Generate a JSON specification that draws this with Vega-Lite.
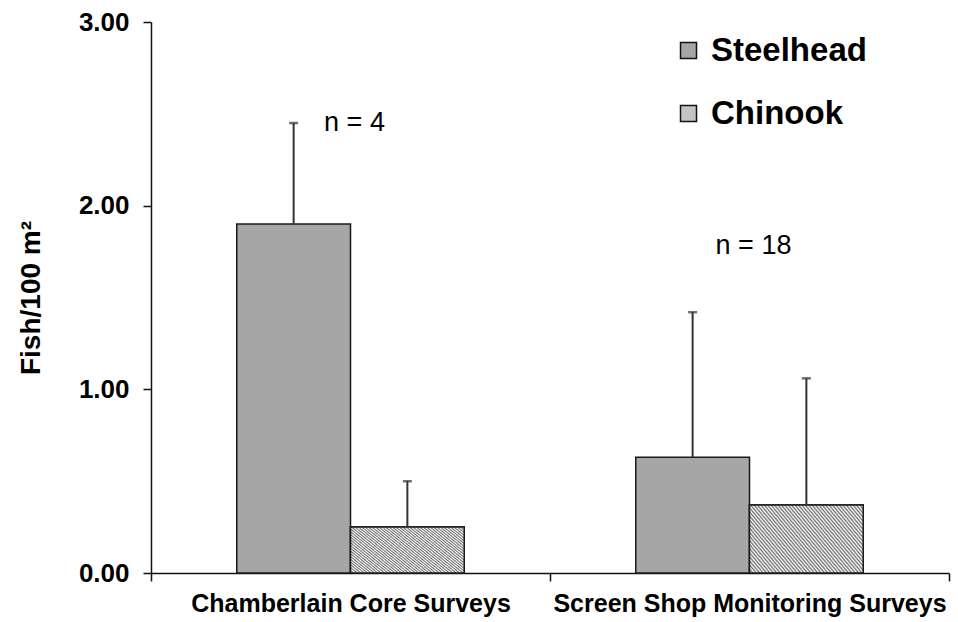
{
  "$schema": "https://vega.github.io/schema/vega-lite/v6.json",
  "width": 798,
  "height": 551,
  "autosize": {"type": "none"},
  "padding": {"left": 151, "top": 22, "right": 9, "bottom": 49},
  "background": "white",
  "config": {
    "view": {"stroke": null},
    "font": "Liberation Sans",
    "axis": {"grid": false, "domainColor": "#111", "tickColor": "#111", "labelColor": "#000", "titleColor": "#000", "domainWidth": 1.5, "tickWidth": 1.5}
  },
  "datasets": {
    "bars": [
      {"site": "Chamberlain Core Surveys", "species": "Steelhead", "mean": 1.90, "upper": 2.45},
      {"site": "Chamberlain Core Surveys", "species": "Chinook", "mean": 0.25, "upper": 0.50},
      {"site": "Screen Shop Monitoring Surveys", "species": "Steelhead", "mean": 0.63, "upper": 1.42},
      {"site": "Screen Shop Monitoring Surveys", "species": "Chinook", "mean": 0.37, "upper": 1.06}
    ],
    "notes": [
      {"site": "Chamberlain Core Surveys", "label": "n = 4", "ypos": 2.45},
      {"site": "Screen Shop Monitoring Surveys", "label": "n = 18", "ypos": 1.78}
    ]
  },
  "layer": [
    {
      "data": {"name": "bars"},
      "mark": {"type": "bar", "stroke": "#1a1a1a", "strokeWidth": 1.5},
      "encoding": {
        "x": {"field": "site", "type": "nominal", "sort": ["Chamberlain Core Surveys", "Screen Shop Monitoring Surveys"],
          "scale": {"paddingInner": 0, "paddingOuter": 0},
          "axis": {"title": null, "labelAngle": 0, "labelFontSize": 25, "labelFontWeight": "bold", "labelLimit": 0, "tickBand": "extent", "tickSize": 8, "labelPadding": 10}},
        "xOffset": {"field": "species", "type": "nominal", "sort": ["Steelhead", "Chinook"], "scale": {"domain": ["Steelhead", "Chinook"], "paddingInner": 0, "paddingOuter": 0.754}},
        "y": {"field": "mean", "type": "quantitative", "scale": {"domain": [0, 3]},
          "axis": {"values": [0, 1, 2, 3], "format": ".2f", "labelFontSize": 26, "labelFontWeight": "bold", "tickSize": 8, "labelPadding": 14,
            "title": "Fish/100 m²", "titleFontSize": 28, "titleFontWeight": "bold", "titleAngle": -90, "titleX": -112, "titleY": 275.5, "titleBaseline": "alphabetic", "titleAlign": "center"}},
        "color": {"field": "species", "type": "nominal", "scale": {"domain": ["Steelhead", "Chinook"], "range": ["#a6a6a6", "#c4c4c4"]},
          "legend": {"title": null, "orient": "none", "legendX": 521, "legendY": 12, "symbolType": "square", "symbolSize": 256, "symbolStrokeColor": "#111", "symbolStrokeWidth": 1.5, "symbolOpacity": 1,
            "labelFontSize": 33, "labelFontWeight": "bold", "labelColor": "#000", "labelOffset": 6, "rowPadding": 29}}
      }
    },
    {
      "data": {"name": "bars"},
      "transform": [{"filter": "datum.species === 'Chinook'"}],
      "mark": {"type": "bar", "stroke": "#1a1a1a", "strokeWidth": 1.5,
        "fill": {"gradient": "linear", "x1": 0, "y1": 1, "x2": 1.2, "y2": 0.4, "stops": [
          {"offset": 0.00, "color": "#707070"}, {"offset": 0.01, "color": "#ffffff"},
          {"offset": 0.02, "color": "#707070"}, {"offset": 0.03, "color": "#ffffff"},
          {"offset": 0.04, "color": "#707070"}, {"offset": 0.05, "color": "#ffffff"},
          {"offset": 0.06, "color": "#707070"}, {"offset": 0.07, "color": "#ffffff"},
          {"offset": 0.08, "color": "#707070"}, {"offset": 0.09, "color": "#ffffff"},
          {"offset": 0.10, "color": "#707070"}, {"offset": 0.11, "color": "#ffffff"},
          {"offset": 0.12, "color": "#707070"}, {"offset": 0.13, "color": "#ffffff"},
          {"offset": 0.14, "color": "#707070"}, {"offset": 0.15, "color": "#ffffff"},
          {"offset": 0.16, "color": "#707070"}, {"offset": 0.17, "color": "#ffffff"},
          {"offset": 0.18, "color": "#707070"}, {"offset": 0.19, "color": "#ffffff"},
          {"offset": 0.20, "color": "#707070"}, {"offset": 0.21, "color": "#ffffff"},
          {"offset": 0.22, "color": "#707070"}, {"offset": 0.23, "color": "#ffffff"},
          {"offset": 0.24, "color": "#707070"}, {"offset": 0.25, "color": "#ffffff"},
          {"offset": 0.26, "color": "#707070"}, {"offset": 0.27, "color": "#ffffff"},
          {"offset": 0.28, "color": "#707070"}, {"offset": 0.29, "color": "#ffffff"},
          {"offset": 0.30, "color": "#707070"}, {"offset": 0.31, "color": "#ffffff"},
          {"offset": 0.32, "color": "#707070"}, {"offset": 0.33, "color": "#ffffff"},
          {"offset": 0.34, "color": "#707070"}, {"offset": 0.35, "color": "#ffffff"},
          {"offset": 0.36, "color": "#707070"}, {"offset": 0.37, "color": "#ffffff"},
          {"offset": 0.38, "color": "#707070"}, {"offset": 0.39, "color": "#ffffff"},
          {"offset": 0.40, "color": "#707070"}, {"offset": 0.41, "color": "#ffffff"},
          {"offset": 0.42, "color": "#707070"}, {"offset": 0.43, "color": "#ffffff"},
          {"offset": 0.44, "color": "#707070"}, {"offset": 0.45, "color": "#ffffff"},
          {"offset": 0.46, "color": "#707070"}, {"offset": 0.47, "color": "#ffffff"},
          {"offset": 0.48, "color": "#707070"}, {"offset": 0.49, "color": "#ffffff"},
          {"offset": 0.50, "color": "#707070"}, {"offset": 0.51, "color": "#ffffff"},
          {"offset": 0.52, "color": "#707070"}, {"offset": 0.53, "color": "#ffffff"},
          {"offset": 0.54, "color": "#707070"}, {"offset": 0.55, "color": "#ffffff"},
          {"offset": 0.56, "color": "#707070"}, {"offset": 0.57, "color": "#ffffff"},
          {"offset": 0.58, "color": "#707070"}, {"offset": 0.59, "color": "#ffffff"},
          {"offset": 0.60, "color": "#707070"}, {"offset": 0.61, "color": "#ffffff"},
          {"offset": 0.62, "color": "#707070"}, {"offset": 0.63, "color": "#ffffff"},
          {"offset": 0.64, "color": "#707070"}, {"offset": 0.65, "color": "#ffffff"},
          {"offset": 0.66, "color": "#707070"}, {"offset": 0.67, "color": "#ffffff"},
          {"offset": 0.68, "color": "#707070"}, {"offset": 0.69, "color": "#ffffff"},
          {"offset": 0.70, "color": "#707070"}, {"offset": 0.71, "color": "#ffffff"},
          {"offset": 0.72, "color": "#707070"}, {"offset": 0.73, "color": "#ffffff"},
          {"offset": 0.74, "color": "#707070"}, {"offset": 0.75, "color": "#ffffff"},
          {"offset": 0.76, "color": "#707070"}, {"offset": 0.77, "color": "#ffffff"},
          {"offset": 0.78, "color": "#707070"}, {"offset": 0.79, "color": "#ffffff"},
          {"offset": 0.80, "color": "#707070"}, {"offset": 0.81, "color": "#ffffff"},
          {"offset": 0.82, "color": "#707070"}, {"offset": 0.83, "color": "#ffffff"},
          {"offset": 0.84, "color": "#707070"}, {"offset": 0.85, "color": "#ffffff"},
          {"offset": 0.86, "color": "#707070"}, {"offset": 0.87, "color": "#ffffff"},
          {"offset": 0.88, "color": "#707070"}, {"offset": 0.89, "color": "#ffffff"},
          {"offset": 0.90, "color": "#707070"}, {"offset": 0.91, "color": "#ffffff"},
          {"offset": 0.92, "color": "#707070"}, {"offset": 0.93, "color": "#ffffff"},
          {"offset": 0.94, "color": "#707070"}, {"offset": 0.95, "color": "#ffffff"},
          {"offset": 0.96, "color": "#707070"}, {"offset": 0.97, "color": "#ffffff"},
          {"offset": 0.98, "color": "#707070"}, {"offset": 0.99, "color": "#ffffff"},
          {"offset": 1.00, "color": "#707070"}
        ]}},
      "encoding": {
        "x": {"field": "site", "type": "nominal", "sort": ["Chamberlain Core Surveys", "Screen Shop Monitoring Surveys"]},
        "xOffset": {"field": "species", "type": "nominal", "sort": ["Steelhead", "Chinook"]},
        "y": {"field": "mean", "type": "quantitative"}
      }
    },
    {
      "data": {"name": "bars"},
      "mark": {"type": "rule", "color": "#333", "strokeWidth": 2},
      "encoding": {
        "x": {"field": "site", "type": "nominal", "sort": ["Chamberlain Core Surveys", "Screen Shop Monitoring Surveys"]},
        "xOffset": {"field": "species", "type": "nominal", "sort": ["Steelhead", "Chinook"]},
        "y": {"field": "mean", "type": "quantitative"},
        "y2": {"field": "upper"}
      }
    },
    {
      "data": {"name": "bars"},
      "mark": {"type": "tick", "color": "#333", "size": 9, "thickness": 2.5},
      "encoding": {
        "x": {"field": "site", "type": "nominal", "sort": ["Chamberlain Core Surveys", "Screen Shop Monitoring Surveys"]},
        "xOffset": {"field": "species", "type": "nominal", "sort": ["Steelhead", "Chinook"]},
        "y": {"field": "upper", "type": "quantitative"}
      }
    },
    {
      "data": {"name": "notes"},
      "mark": {"type": "text", "fontSize": 27, "color": "#000", "baseline": "middle", "align": "center", "dx": 4},
      "encoding": {
        "x": {"field": "site", "type": "nominal", "sort": ["Chamberlain Core Surveys", "Screen Shop Monitoring Surveys"]},
        "y": {"field": "ypos", "type": "quantitative"},
        "text": {"field": "label"}
      }
    }
  ]
}
